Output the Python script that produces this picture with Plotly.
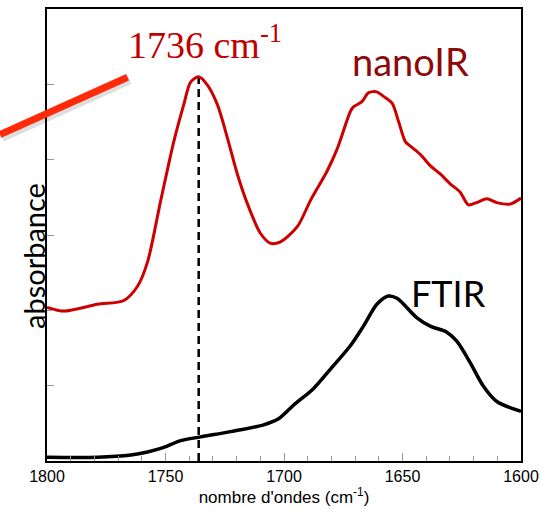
import plotly.graph_objects as go

# nanoIR spectrum (red)
nano_wn = [1800, 1792.8, 1778.7, 1767.6, 1761.8, 1757.6, 1752.0, 1746.5, 1742.3,
           1739.4, 1736.0, 1732.3, 1728.1, 1723.9, 1719.7, 1715.5, 1709.9, 1705.7, 1701.5,
           1694.4, 1688.8, 1681.8, 1677.6, 1672.0, 1670.7, 1667.1, 1664.3, 1660.8, 1658.0,
           1654.4, 1651.7, 1648.8, 1646.7, 1642.5, 1638.3, 1634.1, 1629.9, 1625.7, 1622.2,
           1618.7, 1614.4, 1610.2, 1604.6, 1600]
nano_abs = [2.04, 1.99, 2.08, 2.13, 2.32, 2.64, 3.46, 4.24, 4.73,
            5.03, 5.10, 4.99, 4.73, 4.29, 3.81, 3.42, 3.02, 2.89, 2.91,
            3.11, 3.46, 3.85, 4.14, 4.64, 4.70, 4.77, 4.89, 4.90, 4.84,
            4.75, 4.51, 4.24, 4.18, 4.07, 3.92, 3.81, 3.68, 3.57, 3.40,
            3.43, 3.48, 3.43, 3.41, 3.49]

# FTIR spectrum (black)
ftir_wn = [1800, 1778.7, 1764.6, 1757.6, 1750.7, 1743.6, 1735.2, 1722.5, 1708.6, 1702.3,
           1696.0, 1687.6, 1680.4, 1672.0, 1666.5, 1660.8, 1656.0, 1652.3, 1643.9, 1638.3,
           1631.3, 1627.1, 1621.5, 1616.0, 1610.2, 1600]
ftir_abs = [0.05, 0.05, 0.08, 0.12, 0.18, 0.27, 0.32, 0.39, 0.48, 0.56,
            0.74, 0.96, 1.22, 1.53, 1.79, 2.08, 2.19, 2.16, 1.90, 1.79,
            1.71, 1.59, 1.31, 1.00, 0.79, 0.66]

peak_wn = 1736
peak_abs = nano_abs[nano_wn.index(1736.0)]

x_ticks = [1800, 1750, 1700, 1650, 1600]
y_ticks = [0, 1, 2, 3, 4, 5, 6]

fig = go.Figure()
fig.add_trace(go.Scatter(x=[peak_wn, peak_wn], y=[0, peak_abs], mode="lines",
                         line=dict(color="black", width=2.5, dash="8px,5px"),
                         hoverinfo="skip"))
fig.add_trace(go.Scatter(x=ftir_wn, y=ftir_abs, mode="lines",
                         line=dict(color="black", width=3.5, shape="spline", smoothing=0.8)))
fig.add_trace(go.Scatter(x=nano_wn, y=nano_abs, mode="lines",
                         line=dict(color="#CC0000", width=3, shape="spline", smoothing=0.8)))

fig.update_layout(
    width=546, height=509,
    margin=dict(l=47, r=25, t=7, b=46),
    plot_bgcolor="white", paper_bgcolor="white",
    showlegend=False,
    font=dict(family="Liberation Sans, Arial, sans-serif", color="black"),
    xaxis=dict(range=[1800, 1600], tickvals=x_ticks, ticks="inside", ticklen=8,
               tickcolor="#999999", tickwidth=1,
               minor=dict(dtick=10, ticks="inside", ticklen=5, tickcolor="#999999", tickwidth=1),
               showgrid=False, zeroline=False, showline=True, linecolor="black", linewidth=1.5,
               mirror=True, tickfont=dict(size=16),
               title=dict(text="nombre d'ondes (cm<sup>-1</sup>)", font=dict(size=17), standoff=5)),
    yaxis=dict(range=[0, 6], tickvals=y_ticks, ticks="inside", ticklen=7,
               tickcolor="#999999", tickwidth=1, showticklabels=False,
               showgrid=False, zeroline=False, showline=True, linecolor="black", linewidth=1.5,
               mirror=True),
)

# y-axis title
fig.add_annotation(text="absorbance", xref="paper", yref="paper", x=-0.03, y=0.453,
                   textangle=-90, showarrow=False, xanchor="center", yanchor="middle",
                   font=dict(family="Lato", size=29, color="black"))

# labels
fig.add_annotation(text="1736 cm<sup>-1</sup>", xref="paper", yref="paper", x=0.333, y=0.928,
                   showarrow=False, xanchor="center", yanchor="middle",
                   font=dict(family="Liberation Serif", size=38, color="#C00000"))
fig.add_annotation(text="nanoIR", xref="paper", yref="paper", x=0.766, y=0.885,
                   showarrow=False, xanchor="center", yanchor="middle",
                   font=dict(family="Lato", size=38, color="#8E0A0A"))
fig.add_annotation(text="FTIR", xref="paper", yref="paper", x=0.848, y=0.371,
                   showarrow=False, xanchor="center", yanchor="middle",
                   font=dict(family="Lato", size=36, color="black"))

# red pointer line with soft shadow
fig.add_shape(type="line", xref="paper", yref="paper", x0=-0.095, y0=0.716, x1=0.174, y1=0.843,
              line=dict(color="rgba(0,0,0,0.13)", width=9), layer="above")
fig.add_shape(type="line", xref="paper", yref="paper", x0=-0.0992, y0=0.722, x1=0.170, y1=0.849,
              line=dict(color="#FF2A0A", width=7), layer="above")

fig.write_html("out.html")
